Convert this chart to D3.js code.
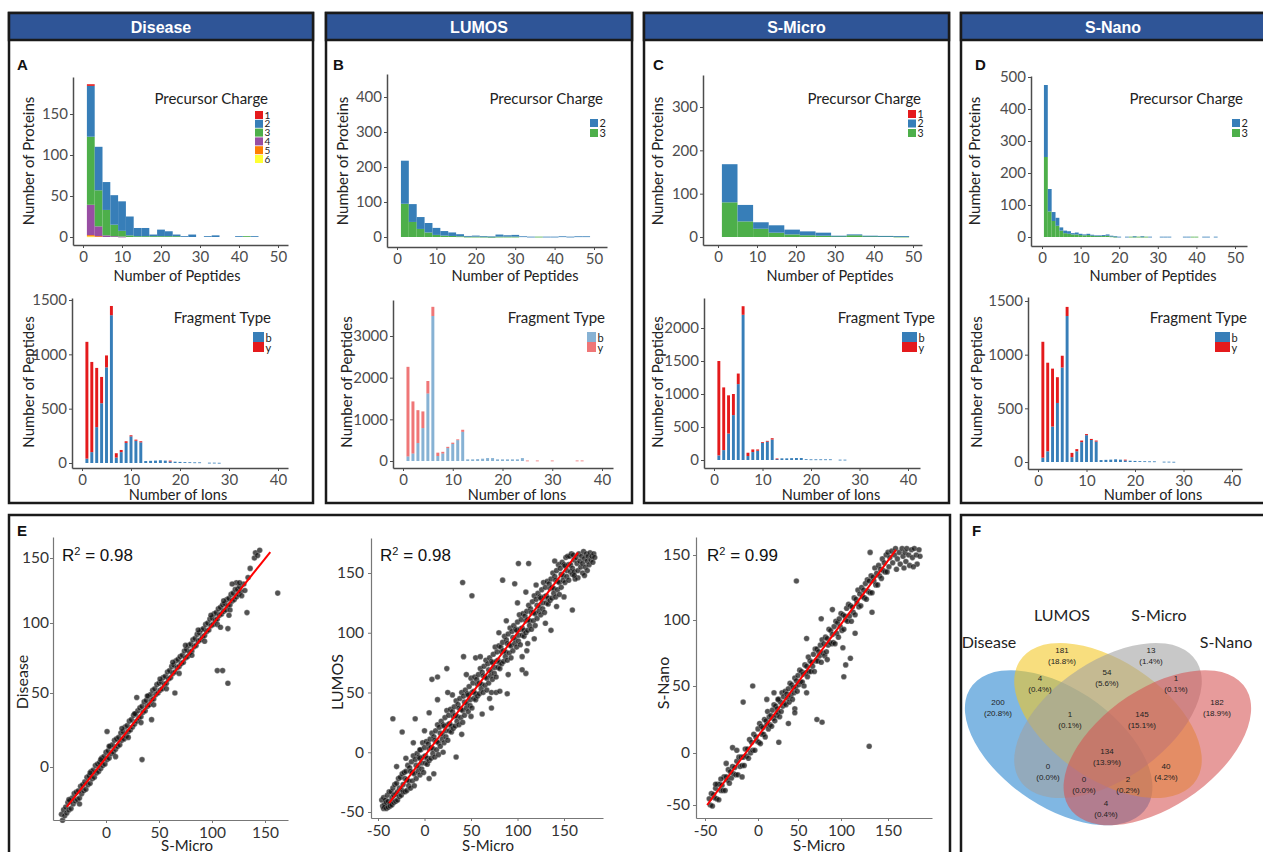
<!DOCTYPE html>
<html><head><meta charset="utf-8">
<script src="https://cdn.jsdelivr.net/npm/d3@7"></script>
<style>body{margin:0;background:#fff}svg{display:block}</style>
</head><body>
<svg id="c" width="1263" height="852"></svg>
<script>
// ================= DATA =================
const panelTitles = ["Disease","LUMOS","S-Micro","S-Nano"];
const chargeKeys = ["1","2","3","4","5","6"];
const fragKeys = ["b","y"];
const pepTicks = [0,10,20,30,40,50];
const ionTicks = [0,10,20,30,40];

// Precursor charge histograms (counts of proteins per peptide-count bin)
const diseaseBinStart = [1,3,5,7,9,11,13,15,17,19,21,23,25,27,29,31,33,35,37,39,41,43];
const diseaseZ1 = [2,0,0,0,0,0,0,0,0,0,0,0,0,0,0,0,0,0,0,0,0,0];
const diseaseZ2 = [62,53,34,36,36,23,10,10,2,8,6,2,1,3,0,1,2,0,0,1,0,1];
const diseaseZ3 = [83,44,31,14,7,2,1,1,1,1,1,1,0,0,0,0,0,0,0,0,1,0];
const diseaseZ4 = [37,12,2,1,0.5,0,0,0,0,0,0,0,0,0,0,0,0,0,0,0,0,0];
const diseaseZ5 = [1.5,1,0,0,0,0,0,0,0,0,0,0,0,0,0,0,0,0,0,0,0,0];
const diseaseZ6 = [0.8,0,0,0,0,0,0,0,0,0,0,0,0,0,0,0,0,0,0,0,0,0];

const lumosBinStart = [1,3,5,7,9,11,13,15,17,19,21,23,25,27,29,31,33,35,37,39,41,43,45,47];
const lumosZ2 = [123,51,34,27,20,13,10,6,2,3,1,1,6,4,5,2,1,0,1,1,2,1,2,2];
const lumosZ3 = [95,43,23,13,6,4,3,2,1,1,1,0.5,1,1,1,0,0,1,0,0,0,0,0,0];

const microBinStart = [1,5,9,13,17,21,25,29,33,37,41,45];
const microZ1 = [0,0,0,0,0,0,0,0,0,0,0,0];
const microZ2 = [88,38,15,17,11,9,7,1,2,1,0.5,1];
const microZ3 = [80,36,19,10,6,4,3,2,4,2,2,1];

const nanoBinStart = [0.5,1.5,2.5,3.5,4.5,5.5,6.5,7.5,8.5,9.5,10.5,11.5,12.5,13.5,14.5,15.5,16.5,17.5,18.5,19.5,20.5,21.5,22.5,23.5,24.5,25.5,26.5,27.5,28.5,29.5,30.5,31.5,32.5,33.5,34.5,35.5,36.5,37.5,38.5,39.5,40.5,41.5,42.5,43.5,44.5];
const nanoZ2 = [225,70,28,25,10,8,8,4,6,4,3,4,3,2,2,3,4,2,1,1,0,1,0,1,0,1,0,1,0,0,1,1,1,0,0,0,1,1,0,0,0,1,1,0,1];
const nanoZ3 = [250,80,50,35,20,12,10,8,8,6,5,6,4,3,3,3,4,2,1,0,0,0,1,1,1,1,1,0,0,0,0,0,0,0,0,0,0,0,1,1,0,0,0,0,0];

// Fragment type (peptides per number of ions, 1..n)
const diseaseIonB = [40,100,330,550,880,1360,50,100,185,245,205,190,18,20,22,25,22,15,12,10,8,7,6,6,0,3,3,2];
const diseaseIonY = [1075,830,545,242,110,85,40,20,15,10,10,10,0,0,0,0,0,7,0,0,0,0,0,0,0,0,0,0];
const lumosIonB = [110,180,430,790,1620,3480,120,180,310,410,500,700,40,40,45,55,70,70,40,40,40,40,40,70,0,0,0,0,0,0,0,0,0,0,0,0];
const lumosIonY = [2150,1250,790,400,300,220,80,40,30,30,20,50,0,0,0,0,0,0,0,0,0,0,0,0,12,0,12,0,0,12,0,0,0,0,12,12];
const microIonB = [70,150,400,680,1150,2200,60,120,140,260,280,310,15,25,25,28,30,30,12,10,10,10,10,10,0,5,5];
const microIonY = [1430,950,580,320,160,130,50,40,20,10,10,20,8,0,0,0,0,0,0,0,0,0,0,0,0,0,0];
const nanoIonB = [40,100,330,550,880,1360,45,100,185,250,205,190,18,20,22,25,22,15,12,10,8,7,6,6,0,3,3,2];
const nanoIonY = [1080,825,540,240,110,85,40,20,15,10,10,10,0,0,0,0,0,7,0,0,0,0,0,0,0,0,0,0];

// Scatter E (x = S-Micro)
const scatterTicksE1 = [0,50,100,150];
const scatterTicks = [-50,0,50,100,150];
const r2Labels = ["0.98","0.98","0.99"];
const e1Fit = [[-37,-27],[155,154.6]];
const e2Fit = [[-38,-42.5],[165,167]];
const e3Fit = [[-48,-50],[158.5,154]];
const e1Points = [[-42,-32],[-41,-36],[-40,-29],[-39,-33],[-38,-27],[-37,-31],[-36,-24],[-35,-29],[-34,-23],[-33,-28],[-32,-21],[-31,-25],[-30,-18],[-29,-23],[-28,-17],[-27,-22],[-26,-16],[-25,-21],[-24,-13],[-23,-18],[-22,-12],[-21,-16],[-20,-10],[-19,-15],[-18,-7],[-17,-12],[-16,-6],[-15,-11],[-14,-3],[-13,-8],[-12,-2],[-11,-7],[-10,1],[-9,-4],[-8,2],[-7,-3],[-6,3],[-5,-1],[-4,6],[-3,1],[-2,7],[-1,2],[0,10],[1,5],[2,11],[3,6],[4,14],[5,9],[6,15],[7,10],[8,18],[9,12],[10,19],[11,14],[12,20],[13,15],[14,23],[15,18],[16,24],[17,19],[18,27],[19,21],[20,28],[21,24],[22,31],[23,25],[24,32],[25,27],[26,35],[27,29],[28,36],[29,31],[30,38],[31,33],[32,40],[33,34],[34,41],[35,37],[36,44],[37,38],[38,45],[39,41],[40,48],[41,42],[42,49],[43,45],[44,52],[45,46],[46,53],[47,49],[48,56],[49,50],[50,57],[51,52],[52,58],[53,53],[54,61],[55,56],[56,62],[57,57],[58,65],[59,60],[60,66],[61,61],[62,69],[63,64],[64,70],[65,65],[66,73],[67,68],[68,74],[69,69],[70,76],[71,71],[72,77],[73,72],[74,80],[75,75],[76,81],[77,76],[78,84],[79,79],[80,85],[81,80],[82,88],[83,83],[84,89],[85,84],[86,92],[87,87],[88,93],[89,88],[90,95],[91,90],[92,96],[93,91],[94,99],[95,94],[96,100],[97,95],[98,103],[99,98],[100,104],[101,99],[102,107],[103,102],[104,108],[105,103],[106,111],[107,106],[108,112],[109,107],[110,114],[111,109],[112,115],[113,110],[114,118],[115,113],[116,119],[117,114],[118,122],[119,117],[120,123],[121,118],[122,126],[123,120],[124,126],[125,122],[126,128],[127,124],
[-35,-22],[-25,-25],[-15,-4],[-5,5],[3,14],[9,7],[15,26],[21,20],[27,36],[33,30],[39,48],[45,42],[51,60],[57,53],[63,72],[69,64],[75,84],[81,77],[87,95],[93,87],[99,106],[105,99],[111,117],[117,110],[123,131],[128,121],[130,130],
[131,125],[134,135],[136,142],[140,150],[141,154],[143,152],[145,156],[126,131],[119,130],[162,123],[133,108],[105,66],[110,66],[115,57],[34,5],[1,24],[65,50],[29,47],[43,32],[108,97],[115,96],[116,106]];
const e2Points = [[-46,-40],[-45,-45],[-44,-47],[-44,-38],[-43,-44],[-43,-46],[-42,-40],[-41,-42],[-41,-47],[-40,-36],[-39,-41],[-39,-46],[-38,-33],[-37,-43],[-37,-45],[-36,-33],[-35,-38],[-35,-44],[-34,-30],[-33,-36],[-33,-42],[-32,-27],[-31,-35],[-31,-41],[-30,-26],[-29,-33],[-29,-40],[-28,-22],[-27,-30],[-27,-37],[-26,-21],[-25,-31],[-25,-36],[-24,-18],[-23,-27],[-23,-33],[-22,-17],[-21,-22],[-21,-33],
[-20,-16],[-19,-23],[-19,-32],[-18,-11],[-17,-24],[-17,-28],[-16,-13],[-15,-16],[-15,-30],[-14,-8],[-13,-17],[-13,-24],[-12,-3],[-11,-18],[-11,-28],[-10,-6],[-9,-11],[-9,-22],[-8,-1],[-7,-12],[-7,-16],[-6,-4],[-5,-5],[-5,-19],[-4,2],[-3,-9],[-3,-14],[-2,8],[-1,-4],[-1,-17],[0,4],[1,-3],[1,-9],[2,9],[3,-5],[3,-10],[4,7],[5,3],[5,-7],[6,11],[7,4],[7,-5],[8,16],[9,3],[9,-1],[10,13],[11,10],[11,-4],[12,18],[13,9],[13,2],[14,23],[15,8],[15,-2],[16,21],[17,16],[17,5],[18,26],[19,15],[19,11],[20,23],[21,22],[21,8],[22,29],[23,18],[23,13],[24,35],[25,23],[25,10],[26,31],[27,24],[27,18],[28,36],[29,22],[29,17],[30,34],[31,30],[31,20],[32,38],[33,31],[33,22],[34,43],[35,30],[35,26],[36,40],[37,37],[37,23],[38,45],[39,36],[39,29],[40,50],[41,35],[41,25],[42,47],[43,42],[43,31],[44,52],[45,41],[45,37],[46,49],[47,48],[47,34],[48,55],[49,44],[49,39],[50,62],[51,50],[51,37],[52,58],[53,51],[53,45],[54,63],[55,49],[55,44],[56,61],[57,57],[57,47],[58,65],[59,58],[59,49],[60,70],[61,57],[61,53],[62,67],[63,64],[63,50],[64,72],[65,63],[65,56],[66,77],[67,62],[67,52],[68,74],[69,69],[69,58],[70,79],[71,68],[71,64],[72,76],[73,75],[73,61],[74,82],[75,71],[75,66],[76,88],[77,76],[77,63],[78,84],[79,77],[79,71],[80,89],[81,75],[81,70],[82,88],[83,84],[83,74],[84,92],[85,85],[85,76],[86,97],[87,84],[87,80],[88,94],[89,91],[89,77],[90,99],[91,90],[91,83],[92,104],[93,89],[93,79],[94,101],[95,96],[95,85],[96,106],[97,95],[97,91],[98,103],[99,102],[99,88],[100,109],[101,98],[101,93],[102,115],[103,103],[103,90],[104,111],[105,104],[105,98],[106,116],[107,102],[107,97],[108,114],[109,110],[109,100],[110,118],[111,111],[111,102],[112,123],[113,110],[113,106],[114,120],[115,117],[115,103],[116,126],[117,117],[117,110],[118,131],[119,116],[119,106],[120,128],[121,123],[121,112],[122,133],[123,122],[123,118],[124,130],[125,129],[125,115],[126,136],[127,125],[127,120],[128,142],[129,130],[129,117],[130,138],[131,131],[131,125],[132,143],[133,129],[133,124],[134,141],[135,137],[135,127],[136,145],[137,138],[137,129],[138,150],[139,137],[139,133],[140,147],[141,144],[141,130],[142,152],[143,143],[143,136],[144,157],[145,142],[145,132],[146,154],[147,149],[147,138],[148,159],[149,148],[149,144],[150,157],[151,156],[151,142],[152,163],[153,152],[153,147],[154,164],[155,157],[155,144],[156,164],[157,157],[157,151],[158,166],[159,154],[159,149],[160,165],[161,161],[161,151],
[163,163],[164,158],[165,152],[166,166],[167,160],[168,155],[169,164],[170,158],[171,168],[172,162],[173,155],[174,166],[175,160],[176,164],[177,157],[178,167],[179,161],[180,164],[181,159],[182,166],[183,163],[165,146],[170,150],[175,152],[162,145],
[-34,28],[-24,17],[-10,28],[5,33],[8,61],[14,63],[14,44],[24,70],[42,80],[41,142],[51,131],[55,79],[72,50],[77,50],[81,51],[89,49],[72,37],[84,144],[101,158],[112,158],[97,141],[109,134],[136,102],[142,122],[159,119],[161,148],[109,66],[105,69],[111,91],[105,80],[34,-4],[5,-22],[-5,2],[172,148],
[-30,-12],[-20,-5],[-12,8],[0,18],[10,-18],[20,0],[30,48],[40,15],[50,30],[60,80],[70,45],[80,100],[90,65],[100,125],[110,85],[120,140],[130,108],[140,160],[150,130],[62,32],[25,50],[45,65],[88,110],[118,95]];
const e3Points = [[-46,-44],[-45,-50],[-44,-39],[-43,-51],[-42,-40],[-41,-43],[-40,-34],[-39,-44],[-38,-30],[-37,-45],[-36,-30],[-35,-36],[-34,-31],[-33,-36],[-32,-23],[-31,-36],[-30,-23],[-29,-26],[-28,-16],[-27,-29],[-26,-18],[-25,-24],[-24,-13],[-23,-20],[-22,-14],[-21,-21],[-20,-8],[-19,-21],[-18,-4],[-17,-13],[-16,-4],[-15,-12],[-14,-4],[-13,-12],[-12,3],[-11,-3],[-10,3],[-9,-5],[-8,10],[-7,0],[-6,8],[-5,2],[-4,14],[-3,2],[-2,12],[-1,9],[0,18],[1,8],[2,22],[3,7],[4,20],[5,14],[6,19],[7,14],[8,25],[9,12],[10,24],[11,21],[12,31],[13,18],[14,27],[15,21],[16,28],[17,20],[18,32],[19,26],[20,36],[21,24],[22,35],[23,28],[24,33],[25,30],[26,40],[27,27],[28,38],[29,31],[30,45],[31,35],[32,42],[33,37],[34,46],[35,36],[36,44],[37,41],[38,48],[39,38],[40,52],[41,43],[42,51],[43,40],[44,49],[45,45],[46,56],[47,49],[48,54],[49,46],[50,58],[51,51],[52,62],[53,53],[54,61],[55,53],[56,59],[57,50],[58,66],[59,60],[60,65],[61,57],[62,72],[63,61],[64,69],[65,61],[66,68],[67,65],[68,74],[69,61],[70,78],[71,69],[72,78],[73,69],[74,76],[75,73],[76,81],[77,68],[78,85],[79,75],[80,82],[81,73],[82,87],[83,76],[84,86],[85,81],[86,93],[87,83],[88,92],[89,82],[90,89],[91,83],[92,95],[93,82],[94,99],[95,90],[96,98],[97,87],[98,101],[99,95],[100,105],[101,92],[102,104],[103,93],[104,103],[105,100],[106,109],[107,99],[108,112],[109,103],[110,111],[111,99],[112,110],[113,106],[114,117],[115,104],[116,116],[117,113],[118,123],[119,110],[120,120],[121,111],[122,125],[123,118],[124,123],[125,117],[126,128],[127,116],[128,131],[129,122],[130,130],[131,121],[132,134],[133,121],[134,133],[135,130],[136,140],[137,127],[138,136],[139,127],[140,142],[141,134],[142,139],[143,132],[144,147],[145,138],[146,144],[147,137],[148,150],[149,137],[150,152],[151,141],
[152,148],[154,153],[155,144],[157,150],[158,155],[160,147],[162,152],[163,143],[165,155],[166,149],[168,152],[169,145],[170,155],[172,150],[173,142],[175,154],[176,148],[178,155],[180,150],[181,143],[183,154],[184,149],[159,139],[167,140],[177,141],
[48,130],[130,5],[-5,50],[-14,38],[-15,-23],[26,8],[72,25],[78,23],[46,33],[46,30],[103,57],[110,71],[105,66],[102,79],[133,106],[131,152],[77,101],[84,70],[60,86],[25,40],[11,40],[-24,4],[-20,2],[-35,-25],[-40,-30],[-30,-10],[38,22],[90,108],[115,90],[20,45],[60,45]];

// Venn (F)
const vennSets = ["Disease","LUMOS","S-Micro","S-Nano"];
const vennCounts = [200,181,13,182,4,54,1,1,145,134,0,40,0,2,4];

// ================= STYLE / LAYOUT =================
const FONT = "Lato, 'Open Sans', sans-serif";
const ARIAL = "'Liberation Sans', Arial, sans-serif";
const chargeColors = {"1":"#e41a1c","2":"#377eb8","3":"#4daf4a","4":"#984ea3","5":"#ff7f00","6":"#ffff33"};
const fragColors = {b:"#377eb8", y:"#e41a1c"};
const svg = d3.select("#c");

function anchorScale(v0,p0,v1,p1,pa,pb){
  const k=(p1-p0)/(v1-v0); const inv=p=>v0+(p-p0)/k;
  return d3.scaleLinear().domain([inv(pa),inv(pb)]).range([pa,pb]);
}
function polyScale(vals,pxs,pLo,pHi){
  const n=vals.length;
  const k0=(pxs[1]-pxs[0])/(vals[1]-vals[0]);
  const kn=(pxs[n-1]-pxs[n-2])/(vals[n-1]-vals[n-2]);
  const vLo=vals[0]+(pLo-pxs[0])/k0, vHi=vals[n-1]+(pHi-pxs[n-1])/kn;
  return d3.scaleLinear().domain([vLo,...vals,vHi]).range([pLo,...pxs,pHi]);
}
function drawAxes(x,y,box,xt,yt,o){
  const gx=svg.append("g").attr("transform",`translate(0,${box.y1})`)
    .call(d3.axisBottom(x).tickValues(xt).tickFormat(d=>String(d)).tickSize(3).tickSizeOuter(0).tickPadding(o.xpad));
  const gy=svg.append("g").attr("transform",`translate(${box.x0},0)`)
    .call(d3.axisLeft(y).tickValues(yt).tickFormat(d=>String(d)).tickSize(3).tickSizeOuter(0).tickPadding(o.ypad));
  [gx,gy].forEach(a=>{
    a.select(".domain").attr("stroke",o.line).attr("stroke-width",o.lw);
    a.selectAll(".tick line").attr("stroke",o.line).attr("stroke-width",1);
    a.selectAll(".tick text").attr("fill",o.text).attr("font-family",FONT).attr("font-size",o.fs);
  });
}
function text(x,y,s,o={}){
  const t=svg.append("text").attr("x",x).attr("y",y).text(s)
    .attr("font-family",o.ff||FONT).attr("font-size",o.fs||15).attr("fill",o.fill||"#222")
    .attr("text-anchor",o.anchor||"start").attr("font-weight",o.fw||"normal");
  return t;
}
function vtext(x,y,s,fs){
  svg.append("text").attr("transform",`translate(${x},${y}) rotate(-90)`).attr("text-anchor","middle")
    .attr("dominant-baseline","central").attr("font-family",FONT).attr("font-size",fs||15).attr("fill","#222").text(s);
}
function stackBars(x,y,rows,keys,colors,op){
  const st=d3.stack().keys(keys)(rows);
  st.forEach(layer=>{
    svg.append("g").attr("fill",colors[layer.key]).attr("fill-opacity",op)
      .selectAll("rect").data(layer.filter(d=>d[1]-d[0]>0)).join("rect")
      .attr("x",d=>x(d.data.x0)).attr("width",d=>x(d.data.x1)-x(d.data.x0))
      .attr("y",d=>y(d[1])).attr("height",d=>Math.max(0.8,y(d[0])-y(d[1])));
  });
}
function legend(o){
  text(o.tx,o.ty,o.title,{anchor:"end",fs:15});
  o.items.forEach((k,i)=>{
    svg.append("rect").attr("x",o.kx).attr("y",o.ky+i*o.step).attr("width",o.kw).attr("height",o.kh)
      .attr("fill",o.colors[k]).attr("fill-opacity",o.op||1);
    text(o.kx+o.kw+1.5,o.ky+i*o.step+o.kh-0.5,k,{fs:o.fs});
  });
}
const axStyle={line:"#4d4d4d",lw:1.5,text:"#4d4d4d",fs:15,xpad:3,ypad:2};

// ---------- frames ----------
const frames=[[9,13,304,490],[326,13,306,490],[644,13,305,490],[961,13,310,490],[9,515,941,345],[961,515,310,345]];
frames.forEach(f=>svg.append("rect").attr("x",f[0]).attr("y",f[1]).attr("width",f[2]).attr("height",f[3])
  .attr("fill","none").attr("stroke","#1a1a1a").attr("stroke-width",2.5));
frames.slice(0,4).forEach((f,i)=>{
  svg.append("rect").attr("x",f[0]).attr("y",f[1]).attr("width",f[2]).attr("height",27).attr("fill","#2f5597").attr("stroke","#1a1a1a").attr("stroke-width",2.5);
  text(f[0]+(i===3?152:f[2]/2),33,panelTitles[i],{anchor:"middle",fill:"#fff",fw:"bold",ff:ARIAL,fs:16});
});
[["A",17,70],["B",333,70],["C",653,70],["D",975,70],["E",17,536],["F",972,536]].forEach(l=>
  text(l[1],l[2],l[0],{ff:ARIAL,fw:"bold",fs:15,fill:"#111"}));

// ---------- precursor charge histograms ----------
const topCharts=[
 {box:{x0:73,x1:288,y0:77,y1:245},xa:[0,83,50,278],ya:[0,237,150,114],yt:[0,50,100,150],
  start:diseaseBinStart,w:2,series:{"1":diseaseZ1,"2":diseaseZ2,"3":diseaseZ3,"4":diseaseZ4,"5":diseaseZ5,"6":diseaseZ6},
  leg:{tx:268,ty:104,kx:255,ky:111,kw:8,kh:8,step:8.8,fs:10},ytl:[28,161],xtl:[177,281]},
 {box:{x0:387,x1:607,y0:74,y1:247},xa:[0,397,50,594],ya:[0,237,400,97],yt:[0,100,200,300,400],
  start:lumosBinStart,w:2,series:{"2":lumosZ2,"3":lumosZ3},
  leg:{tx:603,ty:104,kx:590,ky:119,kw:8,kh:8,step:10,fs:11},ytl:[342,161],xtl:[515,281]},
 {box:{x0:703,x1:922,y0:75,y1:245},xa:[0,718,50,913],ya:[0,237,300,107],yt:[0,100,200,300],
  start:microBinStart,w:4,series:{"1":microZ1,"2":microZ2,"3":microZ3},
  leg:{tx:921,ty:104,kx:908,ky:110,kw:8,kh:8,step:9.5,fs:10.5},ytl:[657,161],xtl:[830,281]},
 {box:{x0:1031,x1:1247,y0:76,y1:246},xa:[0,1042,50,1235],ya:[0,237,500,77],yt:[0,100,200,300,400,500],
  start:nanoBinStart,w:1,series:{"2":nanoZ2,"3":nanoZ3},
  leg:{tx:1243,ty:104,kx:1232,ky:119,kw:8,kh:8,step:10,fs:11},ytl:[974,161],xtl:[1153,281]}
];
topCharts.forEach(c=>{
  const b=c.box;
  const x=anchorScale(c.xa[0],c.xa[1],c.xa[2],c.xa[3],b.x0,b.x1);
  const y=anchorScale(c.ya[0],c.ya[1],c.ya[2],c.ya[3],b.y1,b.y0);
  const keys=Object.keys(c.series);
  const rows=c.start.map((s,i)=>{const r={x0:s,x1:s+c.w};keys.forEach(k=>r[k]=c.series[k][i]);return r;});
  stackBars(x,y,rows,keys.slice().reverse(),chargeColors,1);
  drawAxes(x,y,b,pepTicks,c.yt,axStyle);
  legend(Object.assign({title:"Precursor Charge",items:keys,colors:chargeColors},c.leg));
  vtext(c.ytl[0],c.ytl[1],"Number of Proteins");
  text(c.xtl[0],c.xtl[1],"Number of Peptides",{anchor:"middle",fs:14.5});
});

// ---------- fragment type bars ----------
const botCharts=[
 {box:{x0:72,x1:288,y0:298,y1:468},xa:[0,82,40,278],ya:[0,463,1500,300],yt:[0,500,1000,1500],b:diseaseIonB,yv:diseaseIonY,op:1,
  leg:{tx:271,ty:323,kx:253,ky:332,kw:11,kh:10,step:10,fs:11},ytl:[28,382],xtl:[178,500]},
 {box:{x0:393,x1:613,y0:300,y1:468},xa:[0,403,40,602],ya:[0,461,3000,336],yt:[0,1000,2000,3000],b:lumosIonB,yv:lumosIonY,op:0.6,
  leg:{tx:605,ty:323,kx:587,ky:332,kw:9,kh:10,step:10,fs:11},ytl:[346,382],xtl:[517,500]},
 {box:{x0:704,x1:920,y0:298,y1:468},xa:[0,714,40,908],ya:[0,460,2000,328],yt:[0,500,1000,1500,2000],b:microIonB,yv:microIonY,op:1,
  leg:{tx:935,ty:323,kx:902,ky:332,kw:15,kh:10,step:10,fs:11},ytl:[657,382],xtl:[831,500]},
 {box:{x0:1028,x1:1242,y0:297,y1:469},xa:[0,1038,40,1232],ya:[0,462,1500,301],yt:[0,500,1000,1500],b:nanoIonB,yv:nanoIonY,op:1,
  leg:{tx:1247,ty:323,kx:1215,ky:332,kw:15,kh:10,step:10,fs:11},ytl:[976,382],xtl:[1153,500]}
];
botCharts.forEach(c=>{
  const b=c.box;
  const x=anchorScale(c.xa[0],c.xa[1],c.xa[2],c.xa[3],b.x0,b.x1);
  const y=anchorScale(c.ya[0],c.ya[1],c.ya[2],c.ya[3],b.y1,b.y0);
  const rows=c.b.map((v,i)=>({x0:i+1-0.3,x1:i+1+0.3,b:v,y:c.yv[i]}));
  stackBars(x,y,rows,fragKeys,fragColors,c.op);
  drawAxes(x,y,b,ionTicks,c.yt,axStyle);
  legend(Object.assign({title:"Fragment Type",items:fragKeys,colors:fragColors,op:c.op},c.leg));
  vtext(c.ytl[0],c.ytl[1],"Number of Peptides");
  text(c.xtl[0],c.xtl[1],"Number of Ions",{anchor:"middle",fs:14.5});
});

// ---------- scatter E ----------
const scStyle={line:"#777",lw:1.2,text:"#333",fs:15.5,xpad:4,ypad:2};
const scatters=[
 {box:{x0:53,x1:288,y0:537,y1:820},x:b=>anchorScale(0,106,150,265,b.x0,b.x1),y:b=>polyScale([0,50,100,150],[767,693,623,558],b.y1,b.y0),
  xt:scatterTicksE1,yt:scatterTicksE1,pts:e1Points,fit:e1Fit,yl:"Disease",ytl:[21,682],xtl:187,r2x:62,r2:r2Labels[0],ypad:1},
 {box:{x0:371,x1:603,y0:538,y1:818},x:b=>anchorScale(-50,378,150,564,b.x0,b.x1),y:b=>anchorScale(-50,812,150,573,b.y1,b.y0),
  xt:scatterTicks,yt:scatterTicks,pts:e2Points,fit:e2Fit,yl:"LUMOS",ytl:[336,682],xtl:488,r2x:380,r2:r2Labels[1],ypad:4},
 {box:{x0:696,x1:932,y0:537,y1:818},x:b=>polyScale([-50,0,50,100,150],[705,758,798,841,888],b.x0,b.x1),y:b=>polyScale([-50,0,50,100,150],[805,753,686,620,555],b.y1,b.y0),
  xt:scatterTicks,yt:scatterTicks,pts:e3Points,fit:e3Fit,yl:"S-Nano",ytl:[662,683],xtl:819,r2x:707,r2:r2Labels[2],ypad:3}
];
scatters.forEach(s=>{
  const b=s.box, x=s.x(b), y=s.y(b);
  svg.append("g").selectAll("circle").data(s.pts).join("circle")
    .attr("cx",d=>x(d[0])).attr("cy",d=>y(d[1])).attr("r",2.8)
    .attr("fill","#111").attr("fill-opacity",0.72).attr("stroke","#d0d0d0").attr("stroke-width",0.5).attr("stroke-opacity",0.6);
  svg.append("line").attr("x1",x(s.fit[0][0])).attr("y1",y(s.fit[0][1])).attr("x2",x(s.fit[1][0])).attr("y2",y(s.fit[1][1]))
    .attr("stroke","#ff0000").attr("stroke-width",2);
  drawAxes(x,y,b,s.xt,s.yt,Object.assign({},scStyle,{ypad:s.ypad}));
  vtext(s.ytl[0],s.ytl[1],s.yl,16);
  text(s.xtl,851,"S-Micro",{anchor:"middle",fs:15});
  const t=text(s.r2x,561,"R",{ff:ARIAL,fs:17,fill:"#111"});
  t.append("tspan").attr("dy",-6).attr("font-size",11).text("2");
  t.append("tspan").attr("dy",6).text(" = "+s.r2);
});

// ---------- Venn F ----------
const vx=u=>1108+(u-0.5)*329, vy=u=>643+(0.855-u)*272;
const vennShapes=[{cx:0.35,cy:0.47,rot:45,c:"#2583cf"},{cx:0.5,cy:0.57,rot:45,c:"#f3c620"},{cx:0.5,cy:0.57,rot:-45,c:"#a0a0a0"},{cx:0.65,cy:0.47,rot:-45,c:"#d65353"}];
vennShapes.forEach(e=>{
  svg.append("ellipse").attr("rx",0.35*329).attr("ry",0.2*329)
    .attr("transform",`translate(${vx(e.cx)},${vy(e.cy)}) scale(1,${272/329}) rotate(${e.rot})`)
    .attr("fill",e.c).attr("fill-opacity",0.58);
});
const vennLabelPos=[[989,648],[1062,621],[1159,621],[1226,648]];
vennSets.forEach((s,i)=>text(vennLabelPos[i][0],vennLabelPos[i][1],s,{anchor:"middle",fs:16,fill:"#222"}));
const vennRegionPos=[[998,705],[1062,653],[1151,653],[1217,705],[1040,681],[1107,675],[1176,681],[1070,717],[1142,717],[1107,754],[1048,769],[1166,769],[1084,782],[1128,782],[1106,806]];
const total=d3.sum(vennCounts);
vennCounts.forEach((v,i)=>{
  const p=vennRegionPos[i];
  text(p[0],p[1],String(v),{anchor:"middle",fs:8,ff:ARIAL,fill:"#222"});
  text(p[0],p[1]+10.5,"("+(100*v/total).toFixed(1)+"%)",{anchor:"middle",fs:8,ff:ARIAL,fill:"#222"});
});
</script>
</body></html>
